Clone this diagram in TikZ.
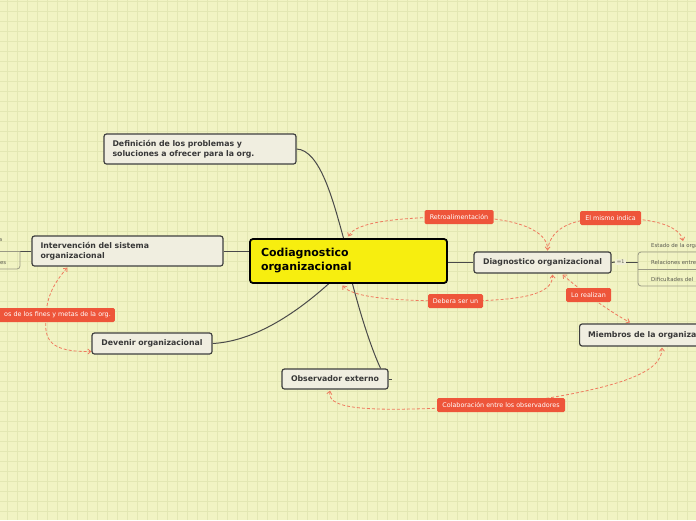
\documentclass[tikz,border=0pt]{standalone}
\usepackage{fontspec}
\setmainfont{DejaVu Sans}
\usetikzlibrary{arrows.meta,calc}
\definecolor{bgc}{HTML}{F1F3C3}
\definecolor{gridc}{HTML}{E3E7B3}
\definecolor{topicfill}{HTML}{F0EEE0}
\definecolor{topicdraw}{HTML}{3F3F3F}
\definecolor{topictext}{HTML}{383838}
\definecolor{centralfill}{HTML}{F7EE0F}
\definecolor{relred}{HTML}{EE553A}
\definecolor{relline}{HTML}{EF7A5F}
\definecolor{linkc}{HTML}{4A4A4A}
\definecolor{subc}{HTML}{9A9A85}
\definecolor{subtext}{HTML}{5A5A50}
\pgfdeclarelayer{back}
\pgfdeclarelayer{mid}
\pgfsetlayers{back,mid,main}
\tikzset{
  topic/.style={draw=topicdraw, line width=1.2pt, fill=topicfill, rounded corners=2.5pt,
    text=topictext, font=\fontsize{7.8}{10}\selectfont\bfseries, inner ysep=0pt, inner xsep=8.5pt, align=left},
  centraltopic/.style={draw=black, line width=1.8pt, fill=centralfill, rounded corners=3pt,
    text=black, font=\fontsize{11}{14}\selectfont\bfseries, inner xsep=11pt, inner ysep=0pt, align=left},
  rellabel/.style={fill=relred, rounded corners=1.5pt, text=white, font=\fontsize{6.4}{7}\selectfont,
    inner xsep=4pt, inner ysep=0pt, minimum height=14pt},
  relation/.style={draw=relline, line width=0.8pt, dash pattern=on 3pt off 2pt},
  relboth/.style={relation, {Straight Barb[length=3pt,width=5pt]}-{Straight Barb[length=3pt,width=5pt]}},
  link/.style={draw=linkc, line width=1pt},
  subline/.style={draw=subc, line width=0.8pt},
  subitem/.style={text=subtext, font=\fontsize{5.4}{6}\selectfont, inner sep=0pt},
  badge/.style={fill=topicfill!70!bgc, text=subtext, font=\fontsize{4.8}{6}\selectfont, inner xsep=1.5pt, inner ysep=1pt, rounded corners=1pt}
}
\begin{document}
\begin{tikzpicture}[x=1pt,y=-1pt]
\useasboundingbox (0,0) rectangle (696,520);
\begin{pgfonlayer}{back}
  \fill[bgc] (0,0) rectangle (696,520);
  \foreach \gx in {7,17,...,697} \draw[gridc, line width=0.6pt] (\gx,0) -- (\gx,520);
  \foreach \gy in {1,11,...,521} \draw[gridc, line width=0.6pt] (0,\gy) -- (696,\gy);
\end{pgfonlayer}

% topics
\node[centraltopic, text width=175pt, minimum height=44pt] (central) at (348.5,261) {Codiagnostico\\organizacional};
\node[topic, text width=175pt, minimum height=30pt] (def) at (200,149) {Definición de los problemas y\\soluciones a ofrecer para la org.};
\node[topic, text width=174pt, minimum height=30pt] (interv) at (127.5,251) {Intervención del sistema\\organizacional};
\node[topic, minimum width=120pt, minimum height=21pt, align=center] (devenir) at (152,343.5) {Devenir organizacional};
\node[topic, minimum width=106pt, minimum height=20pt, align=center] (observ) at (335,379) {Observador externo};
\node[topic, minimum width=137pt, minimum height=21pt, align=center] (diag) at (542.5,262.5) {Diagnostico organizacional};
\node[topic, anchor=west, minimum height=22pt] (miem) at (579,335) {Miembros de la organización};

% badge and subtopics
\node[badge] (count) at (620.5,262) {≔1};
\node[subitem, anchor=base west] (estado) at (651,247) {Estado de la organización};
\node[subitem, anchor=base west] (relac) at (651,264) {Relaciones entre};
\node[subitem, anchor=base west] (dific) at (651,281) {Dificultades del};
\node[subitem, anchor=base east] (lefta) at (2.5,241) {a};
\node[subitem, anchor=base east] (leftes) at (6.5,264.5) {es};

% relation labels
\node[rellabel, minimum width=69pt] (retro) at (459,217) {Retroalimentación};
\node[rellabel, minimum width=61pt] (mismo) at (610.5,218) {El mismo indica};
\node[rellabel, minimum width=55pt] (debera) at (455.5,301) {Debera ser un};
\node[rellabel, minimum width=45pt] (realizan) at (588.5,295) {Lo realizan};
\node[rellabel, minimum width=128pt] (colab) at (501,405) {Colaboración entre los observadores};
\node[rellabel, anchor=east, text width=130pt, align=right] (fines) at (115,315) {os de los fines y metas de la org.};

\coordinate (junc) at (638,262);
\coordinate (mismoend) at (683,241);
\coordinate (leftjunc) at (20,251);
\coordinate (stubend) at (392,379);

\begin{pgfonlayer}{mid}
  % main links
  \draw[link] (def.east) .. controls (320,150) and (333,200) .. ([xshift=-5pt]central.north);
  \draw[link] (interv.east) -- (interv.east -| central.west);
  \draw[link] (devenir.east) .. controls (260,341) and (305,305) .. ([xshift=-20pt]central.south);
  \draw[link] ([xshift=4pt]central.south) .. controls (362,320) and (372,350) .. ([xshift=-8pt]observ.north east);
  \draw[link] (observ.east) -- (stubend);
  \draw[link] (diag.west) -- (diag.west -| central.east);
  % subtopic brackets
  \draw[link] (diag.east) -- (count.west);
  \draw[link] (count.east) -- (junc);
  \draw[subline, rounded corners=3pt] (junc) |- (700,252);
  \draw[subline, rounded corners=3pt] (junc) |- (700,286);
  \draw[subline] (638,269) -- (700,269);
  \draw[link] (interv.west) -- (leftjunc);
  \draw[subline] (leftjunc) -- (-5,251);
  \draw[subline, rounded corners=3pt] (leftjunc) |- (-5,269);
  % relations
  \draw[relboth] ([yshift=1.5pt]central.north) .. controls (355,222) and (400,217) .. (retro.center)
     .. controls (520,217) and (548,232) .. ([xshift=5pt,yshift=1pt]diag.north);
  \draw[relation, -{Straight Barb[length=3pt,width=5pt]}] ([xshift=5pt,yshift=1pt]diag.north) .. controls (550,232) and (565,218) .. (mismo.center)
     .. controls (660,218) and (680,228) .. (mismoend);
  \draw[relboth] ([xshift=-6pt,yshift=-1.5pt]central.south) .. controls (352,297) and (390,301) .. (debera.center)
     .. controls (520,301) and (553,295) .. ([xshift=10pt,yshift=-1pt]diag.south);
  \draw[relboth] ([xshift=20pt,yshift=-1pt]diag.south) .. controls (580,290) and (610,312) .. ([xshift=51pt,yshift=1pt]miem.north west);
  \draw[relboth] ([xshift=-5pt,yshift=-1pt]observ.south) .. controls (326,412) and (380,412) .. (colab.center)
     .. controls (630,388) and (662,370) .. ([xshift=83pt,yshift=-1pt]miem.south west);
  \draw[relboth] ([xshift=36pt,yshift=-1pt]interv.south west) .. controls (52,285) and (46,300) .. (46,318)
     .. controls (44,340) and (50,352) .. ([yshift=-8pt]devenir.west);
\end{pgfonlayer}
\end{tikzpicture}
\end{document}
